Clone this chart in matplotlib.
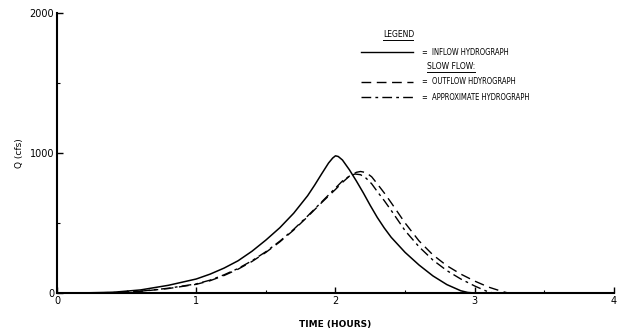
import numpy as np
import matplotlib.pyplot as plt
from matplotlib.ticker import MultipleLocator

# hydrograph ordinates, time in hours and discharge in cfs
t_inflow = [0.0, 0.2, 0.4, 0.6, 0.8, 1.0, 1.1, 1.2, 1.3, 1.4, 1.5, 1.6, 1.7, 1.8,
            1.85, 1.9, 1.95, 1.98, 2.0, 2.02, 2.05, 2.1, 2.15, 2.2, 2.25, 2.3,
            2.35, 2.4, 2.5, 2.6, 2.7, 2.8, 2.9, 2.95, 3.0, 4.0]
q_inflow = [0, 1, 5, 22, 55, 100, 135, 178, 230, 298, 378, 466, 570, 695,
            770, 850, 928, 964, 980, 975, 950, 880, 800, 715, 625, 540,
            465, 398, 290, 200, 122, 60, 16, 4, 0, 0]

t_outflow = [0.0, 0.2, 0.4, 0.6, 0.8, 1.0, 1.1, 1.2, 1.3, 1.4, 1.5, 1.6, 1.7, 1.8,
             1.9, 2.0, 2.05, 2.1, 2.15, 2.18, 2.22, 2.26, 2.3, 2.35, 2.4, 2.5,
             2.6, 2.7, 2.8, 2.9, 3.0, 3.1, 3.2, 3.24, 4.0]
q_outflow = [0, 0.5, 3, 12, 32, 62, 88, 125, 170, 225, 290, 365, 450, 545,
             645, 740, 790, 835, 862, 868, 860, 830, 780, 715, 645, 500,
             372, 272, 195, 135, 85, 42, 10, 0, 0]

t_approx = [0.0, 0.2, 0.4, 0.6, 0.8, 1.0, 1.1, 1.2, 1.3, 1.4, 1.5, 1.6, 1.7, 1.8,
            1.9, 2.0, 2.05, 2.1, 2.14, 2.18, 2.22, 2.26, 2.3, 2.35, 2.4, 2.5,
            2.6, 2.7, 2.8, 2.9, 3.0, 3.08, 3.13, 4.0]
q_approx = [0, 0.5, 3, 13, 34, 65, 92, 130, 175, 230, 295, 370, 455, 550,
            650, 750, 800, 835, 850, 845, 820, 780, 725, 660, 590, 445,
            330, 235, 160, 100, 50, 15, 0, 0]

xticks = [0, 1, 2, 3, 4]
yticks = [0, 1000, 2000]

plt.rcParams['font.family'] = ['DejaVu Sans']
fig = plt.figure(figsize=(6.18, 3.30), dpi=100)
ax = fig.add_axes([0.0922, 0.1121, 0.9013, 0.8485])

ax.plot(t_inflow, q_inflow, color='black', lw=1.1)
ax.plot(t_outflow, q_outflow, color='black', lw=1.0, dashes=(7, 4))
ax.plot(t_approx, q_approx, color='black', lw=1.0, dashes=(7, 3, 2, 3))

ax.set_xlim(0, 4)
ax.set_ylim(0, 2000)
ax.set_xticks(xticks)
ax.set_yticks(yticks)
ax.xaxis.set_minor_locator(MultipleLocator(0.5))
ax.yaxis.set_minor_locator(MultipleLocator(500))
ax.tick_params(direction='in', length=4, width=1, labelsize=7, pad=2)
ax.tick_params(which='minor', direction='in', length=2, width=0.8)
for s in ['top', 'right']:
    ax.spines[s].set_visible(False)
for s in ['left', 'bottom']:
    ax.spines[s].set_linewidth(1.5)

ax.set_xlabel('TIME (HOURS)', fontsize=6.5, fontweight='bold', labelpad=10)
ax.set_ylabel('Q (cfs)', fontsize=6.5, labelpad=4)

# hand lettered legend block
tr = ax.transAxes
def legend_row(y, dashes, label):
    ax.plot([0.545, 0.64], [y, y], transform=tr, color='black', lw=1.0,
            dashes=dashes, clip_on=False)
    ax.text(0.655, y, '=  ' + label, transform=tr, fontsize=5.5,
            va='center', ha='left', fontstretch='condensed')

ax.text(0.585, 0.925, 'LEGEND', transform=tr, fontsize=5.5, va='center',
        ha='left')
ax.plot([0.585, 0.64], [0.905, 0.905], transform=tr, color='black', lw=0.7)
legend_row(0.86, (None, None), 'INFLOW HYDROGRAPH')
ax.text(0.665, 0.81, 'SLOW FLOW:', transform=tr, fontsize=5.5, va='center',
        ha='left')
ax.plot([0.665, 0.75], [0.79, 0.79], transform=tr, color='black', lw=0.7)
legend_row(0.755, (7, 4), 'OUTFLOW HDYROGRAPH')
legend_row(0.70, (7, 3, 2, 3), 'APPROXIMATE HYDROGRAPH')

fig.savefig('out.png', dpi=100)
